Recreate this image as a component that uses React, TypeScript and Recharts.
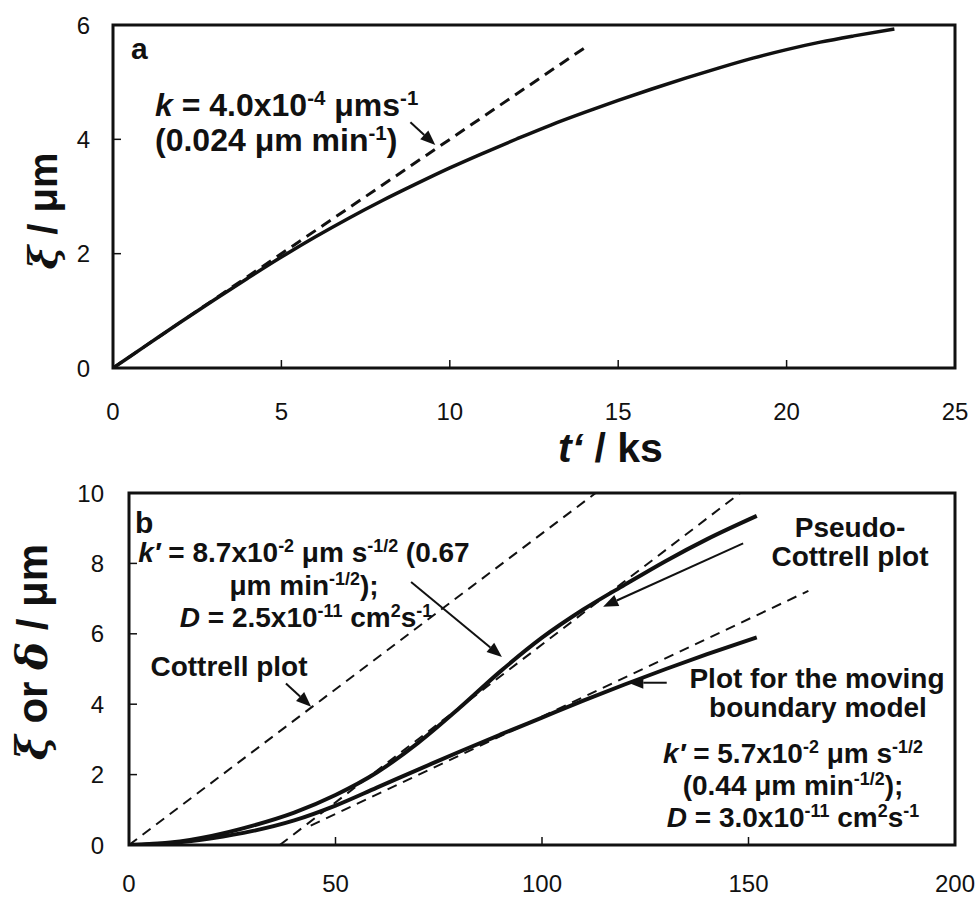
import React from 'react'
import { LineChart, Line, XAxis, YAxis, ReferenceArea, ReferenceLine } from 'recharts'

const FONT = '"Liberation Sans", Arial, Helvetica, sans-serif'
const INK = '#111'

// panel a: t' / ks against xi / um
const aTime = [0, 1, 2, 3, 4, 5, 6, 7, 8, 9, 10, 11, 12, 13, 14, 15, 16, 17, 18, 19, 20, 21, 22, 23.2]
const aXi = [0, 0.4, 0.8, 1.19, 1.57, 1.94, 2.29, 2.62, 2.93, 3.22, 3.5, 3.76, 4.01, 4.25, 4.47, 4.68, 4.88, 5.07, 5.25, 5.42, 5.57, 5.7, 5.81, 5.93]
const aSlopeTime = [0, 14]
const aSlopeXi = [0, 5.6]
const aTicksX = [0, 5, 10, 15, 20, 25]
const aTicksY = [0, 2, 4, 6]

// panel b
const bTime = [0, 10, 20, 30, 40, 50, 60, 70, 80, 90, 100, 110, 120, 130, 140, 152]
const bPseudo = [0, 0.07, 0.26, 0.55, 0.92, 1.42, 2.06, 2.9, 3.89, 4.94, 5.89, 6.69, 7.39, 8.07, 8.69, 9.35]
const bMoving = [0, 0.05, 0.19, 0.4, 0.7, 1.12, 1.63, 2.14, 2.65, 3.14, 3.62, 4.1, 4.56, 5.0, 5.42, 5.9]
const cottrellTime = [0, 113]
const cottrellY = [0, 10]
const pseudoTanTime = [36.5, 148]
const pseudoTanY = [0, 10]
const movingTanTime = [44, 164.5]
const movingTanY = [0.55, 7.22]
const bTicksX = [0, 50, 100, 150, 200]
const bTicksY = [0, 2, 4, 6, 8, 10]

// annotation arrows, in data units: [fromX, fromY, toX, toY]
const aArrow = [8.83, 4.3, 9.57, 3.9]
const bArrows = [
  [68.3, 7.47, 90.3, 5.34],
  [38.0, 4.59, 44.1, 3.93],
  [148.7, 8.57, 114.8, 6.77],
  [130.2, 4.61, 120.9, 4.61],
]

const zip = (xs: number[], ys: number[]) => xs.map((x, i) => ({ x, y: ys[i] }))

function ArrowShape(props: any) {
  const { x1, y1, x2, y2 } = props
  const a = Math.atan2(y2 - y1, x2 - x1)
  const len = 15
  const half = 6
  const bx = x2 - len * Math.cos(a)
  const by = y2 - len * Math.sin(a)
  const px = -Math.sin(a) * half
  const py = Math.cos(a) * half
  return (
    <g>
      <line x1={x1} y1={y1} x2={bx} y2={by} stroke={INK} strokeWidth={2} />
      <polygon points={`${x2},${y2} ${bx + px},${by + py} ${bx - px},${by - py}`} fill={INK} />
    </g>
  )
}

type Seg = { t: string; sup?: boolean; it?: boolean; font?: string }

function Rich({ x, y, size, anchor = 'start', segs }: { x: number; y: number; size: number; anchor?: string; segs: Seg[] }) {
  const shift = size * 0.34
  let prevSup = false
  return (
    <text x={x} y={y} fontSize={size} textAnchor={anchor as any} fontWeight="bold" fontFamily={FONT} fill={INK} style={{ whiteSpace: 'pre' }}>
      {segs.map((s, i) => {
        let dy = 0
        if (s.sup && !prevSup) dy = -shift
        if (!s.sup && prevSup) dy = shift
        prevSup = !!s.sup
        return (
          <tspan
            key={i}
            dy={dy || undefined}
            fontSize={s.sup ? size * 0.64 : undefined}
            fontStyle={s.it ? 'italic' : undefined}
            fontFamily={s.font}
          >
            {s.t}
          </tspan>
        )
      })}
    </text>
  )
}

const tickStyle = { fill: INK, fontSize: 24, fontFamily: FONT }
const tickLine = { stroke: INK, strokeWidth: 1.5 }
const GREEK = '"DejaVu Serif", serif'

export default function App() {
  return (
    <div style={{ position: 'absolute', left: 0, top: 0, width: 976, height: 898, background: '#fff' }}>
      <div style={{ position: 'absolute', left: 0, top: 0 }}>
        <LineChart width={976} height={460} margin={{ top: 25, right: 21, bottom: 62, left: 53 }}>
          <XAxis
            type="number"
            dataKey="x"
            domain={[0, 25]}
            ticks={aTicksX}
            height={30}
            axisLine={false}
            tickSize={-8}
            tickMargin={43}
            tick={tickStyle}
            tickLine={tickLine}
            allowDataOverflow
          />
          <YAxis
            type="number"
            domain={[0, 6]}
            ticks={aTicksY}
            width={60}
            axisLine={false}
            tickSize={-8}
            tickMargin={31}
            tick={tickStyle}
            tickLine={tickLine}
            allowDataOverflow
          />
          <Line
            data={zip(aSlopeTime, aSlopeXi)}
            dataKey="y"
            type="linear"
            stroke={INK}
            strokeWidth={3}
            strokeDasharray="11 7"
            dot={false}
            isAnimationActive={false}
          />
          <Line
            data={zip(aTime, aXi)}
            dataKey="y"
            type="monotone"
            stroke={INK}
            strokeWidth={3.5}
            dot={false}
            isAnimationActive={false}
          />
          <ReferenceArea x1={0} x2={25} y1={0} y2={6} fill="none" stroke={INK} strokeWidth={3} ifOverflow="visible" />
          <ReferenceLine
            segment={[{ x: aArrow[0], y: aArrow[1] }, { x: aArrow[2], y: aArrow[3] }]}
            shape={(p: any) => <ArrowShape {...p} />}
          />
        </LineChart>
      </div>

      <div style={{ position: 'absolute', left: 0, top: 460 }}>
        <LineChart width={976} height={438} margin={{ top: 33, right: 21, bottom: 23, left: 49 }}>
          <XAxis
            type="number"
            dataKey="x"
            domain={[0, 200]}
            ticks={bTicksX}
            height={30}
            axisLine={false}
            tickSize={-8}
            tickMargin={38}
            tick={tickStyle}
            tickLine={tickLine}
            allowDataOverflow
          />
          <YAxis
            type="number"
            domain={[0, 10]}
            ticks={bTicksY}
            width={80}
            axisLine={false}
            tickSize={-8}
            tickMargin={33}
            tick={tickStyle}
            tickLine={tickLine}
            allowDataOverflow
          />
          <Line data={zip(cottrellTime, cottrellY)} dataKey="y" type="linear" stroke={INK} strokeWidth={2} strokeDasharray="10 7" dot={false} isAnimationActive={false} />
          <Line data={zip(pseudoTanTime, pseudoTanY)} dataKey="y" type="linear" stroke={INK} strokeWidth={2} strokeDasharray="10 7" dot={false} isAnimationActive={false} />
          <Line data={zip(movingTanTime, movingTanY)} dataKey="y" type="linear" stroke={INK} strokeWidth={2} strokeDasharray="10 7" dot={false} isAnimationActive={false} />
          <Line data={zip(bTime, bPseudo)} dataKey="y" type="monotone" stroke={INK} strokeWidth={4} dot={false} isAnimationActive={false} />
          <Line data={zip(bTime, bMoving)} dataKey="y" type="monotone" stroke={INK} strokeWidth={4} dot={false} isAnimationActive={false} />
          <ReferenceArea x1={0} x2={200} y1={0} y2={10} fill="none" stroke={INK} strokeWidth={3} ifOverflow="visible" />
          {bArrows.map((r, i) => (
            <ReferenceLine
              key={i}
              segment={[{ x: r[0], y: r[1] }, { x: r[2], y: r[3] }]}
              shape={(p: any) => <ArrowShape {...p} />}
            />
          ))}
        </LineChart>
      </div>

      {/* text layer */}
      <svg width={976} height={898} style={{ position: 'absolute', left: 0, top: 0, pointerEvents: 'none' }}>
        {/* panel a */}
        <Rich x={131} y={59} size={30} segs={[{ t: 'a' }]} />
        <Rich
          x={155}
          y={116}
          size={32}
          segs={[{ t: 'k', it: true }, { t: ' = 4.0x10' }, { t: '-4', sup: true }, { t: ' μms' }, { t: '-1', sup: true }]}
        />
        <Rich x={155} y={151} size={32} segs={[{ t: '(0.024 μm min' }, { t: '-1', sup: true }, { t: ')' }]} />
        <Rich x={558} y={462} size={41} segs={[{ t: 't‘', it: true }, { t: ' / ks' }]} />
        <g transform="translate(57,211) rotate(-90)">
          <Rich x={0} y={0} size={40} anchor="middle" segs={[{ t: 'ξ', it: true, font: GREEK }, { t: ' / μm' }]} />
        </g>

        {/* panel b */}
        <Rich x={135} y={533} size={30} segs={[{ t: 'b' }]} />
        <Rich
          x={304}
          y={562}
          size={28}
          anchor="middle"
          segs={[
            { t: 'k′', it: true },
            { t: ' = 8.7x10' },
            { t: '-2', sup: true },
            { t: ' μm s' },
            { t: '-1/2', sup: true },
            { t: ' (0.67' },
          ]}
        />
        <Rich x={304} y={595} size={28} anchor="middle" segs={[{ t: 'μm min' }, { t: '-1/2', sup: true }, { t: ');' }]} />
        <Rich
          x={306}
          y={627}
          size={28}
          anchor="middle"
          segs={[{ t: 'D', it: true }, { t: ' = 2.5x10' }, { t: '-11', sup: true }, { t: ' cm' }, { t: '2', sup: true }, { t: 's' }, { t: '-1', sup: true }]}
        />
        <Rich x={229} y={676} size={28} anchor="middle" segs={[{ t: 'Cottrell plot' }]} />
        <Rich x={850} y={537} size={28} anchor="middle" segs={[{ t: 'Pseudo-' }]} />
        <Rich x={850} y={566} size={28} anchor="middle" segs={[{ t: 'Cottrell plot' }]} />
        <Rich x={817} y={688} size={28} anchor="middle" segs={[{ t: 'Plot for the moving' }]} />
        <Rich x={818} y={717} size={28} anchor="middle" segs={[{ t: 'boundary model' }]} />
        <Rich
          x={793}
          y={763}
          size={28}
          anchor="middle"
          segs={[{ t: 'k′', it: true }, { t: ' = 5.7x10' }, { t: '-2', sup: true }, { t: ' μm s' }, { t: '-1/2', sup: true }]}
        />
        <Rich x={793} y={795} size={28} anchor="middle" segs={[{ t: '(0.44 μm min' }, { t: '-1/2', sup: true }, { t: ');' }]} />
        <Rich
          x={793}
          y={827}
          size={28}
          anchor="middle"
          segs={[{ t: 'D', it: true }, { t: ' = 3.0x10' }, { t: '-11', sup: true }, { t: ' cm' }, { t: '2', sup: true }, { t: 's' }, { t: '-1', sup: true }]}
        />
        <g transform="translate(47,652) rotate(-90)">
          <Rich
            x={0}
            y={0}
            size={42}
            anchor="middle"
            segs={[
              { t: 'ξ', it: true, font: GREEK },
              { t: ' or ' },
              { t: 'δ', it: true, font: GREEK },
              { t: ' / μm' },
            ]}
          />
        </g>
      </svg>
    </div>
  )
}
